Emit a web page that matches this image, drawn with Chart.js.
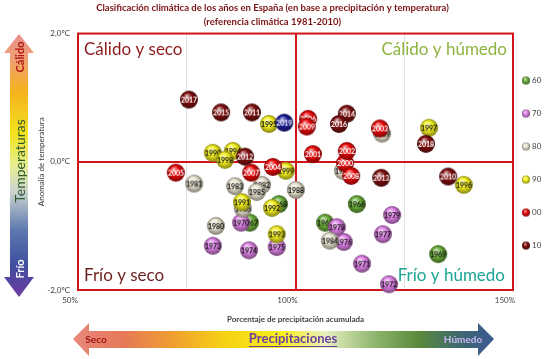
<!DOCTYPE html>
<html>
<head>
<meta charset="utf-8">
<script src="https://cdn.jsdelivr.net/npm/chart.js@4"></script>
<style>
  html, body { margin: 0; padding: 0; background: #fff; }
  #wrap { width: 550px; height: 359px; }
</style>
</head>
<body>
<div id="wrap"><canvas id="chart"></canvas></div>
<script>
// Years, accumulated precipitation (% of normal) and temperature anomaly (ºC)
const years = [1965, 1966, 1967, 1968, 1969,
  1970, 1971, 1972, 1973, 1974, 1975, 1976, 1977, 1978, 1979,
  1980, 1981, 1982, 1983, 1984, 1985, 1986, 1987, 1988, 1989,
  1990, 1991, 1992, 1993, 1994, 1995, 1996, 1997, 1998, 1999,
  2000, 2001, 2002, 2003, 2004, 2005, 2006, 2007, 2008, 2009,
  2010, 2011, 2012, 2013, 2014, 2015, 2016, 2017, 2018, 2019];
const precipitation = [106.8, 114.1, 89.5, 96.2, 132.8,
  87.5, 115.3, 121.5, 81.0, 89.3, 95.7, 111.1, 120.1, 109.5, 122.2,
  81.7, 76.7, 92.3, 86.1, 107.9, 91.1, 87.9, 110.9, 100.1, 119.9,
  81.0, 87.7, 94.6, 95.7, 85.6, 93.9, 138.7, 130.7, 83.8, 97.8,
  111.4, 104.0, 111.8, 119.4, 94.8, 72.5, 102.9, 89.8, 112.8, 102.6,
  135.1, 90.0, 88.4, 119.7, 111.8, 82.9, 110.0, 75.5, 130.0, 97.4];
const anomaly = [-0.95, -0.66, -0.95, -0.66, -1.44,
  -0.95, -1.59, -1.91, -1.31, -1.38, -1.33, -1.25, -1.13, -1.02, -0.83,
  -1.00, -0.34, -0.36, -0.38, -1.23, -0.47, -0.73, -0.14, -0.44, 0.44,
  0.14, -0.63, -0.72, -1.13, 0.17, 0.59, -0.36, 0.53, 0.03, -0.14,
  -0.02, 0.12, 0.17, 0.52, -0.08, -0.17, 0.67, -0.17, -0.22, 0.55,
  -0.23, 0.77, 0.08, -0.25, 0.75, 0.77, 0.59, 0.97, 0.28, 0.61];

const decades = ['60', '70', '80', '90', '00', '10'];
const decadeColors = ['#6BAE3A', '#DC80E4', '#E6E0CC', '#F2EE1E', '#E60808', '#7E0E0E'];
const highlightYear = 2019;
const highlightColor = '#1C1C98';
const xTickLabels = [50, 100, 150];
const yTickLabels = [-2, 0, 2];
const quadrants = ['Cálido y seco', 'Cálido y húmedo', 'Frío y seco', 'Frío y húmedo'];

function mix(hex, amt) {
  const n = parseInt(hex.slice(1), 16);
  let r = n >> 16, g = (n >> 8) & 255, b = n & 255;
  const t = amt < 0 ? 0 : 255, p = Math.abs(amt);
  r = Math.round(r + (t - r) * p);
  g = Math.round(g + (t - g) * p);
  b = Math.round(b + (t - b) * p);
  return `rgb(${r},${g},${b})`;
}

function isLight(hex) {
  const n = parseInt(hex.slice(1), 16);
  return (0.3 * (n >> 16) + 0.59 * ((n >> 8) & 255) + 0.11 * (n & 255)) > 140;
}

// a shaded sphere with the year written on it, used as the point style
function makeBall(color, text, r) {
  const c = document.createElement('canvas');
  const s = 2 * r + 2;
  c.width = c.height = s;
  const g = c.getContext('2d');
  const cx = s / 2, cy = s / 2;
  const grad = g.createRadialGradient(cx - r * 0.25, cy - r * 0.45, r * 0.05, cx, cy, r);
  grad.addColorStop(0, mix(color, 0.65));
  grad.addColorStop(0.5, color);
  grad.addColorStop(1, mix(color, -0.45));
  g.fillStyle = grad;
  g.beginPath();
  g.arc(cx, cy, r, 0, Math.PI * 2);
  g.fill();
  if (text) {
    g.font = 'bold 7px Lato';
    g.textAlign = 'center';
    g.textBaseline = 'middle';
    g.fillStyle = isLight(color) ? '#111' : '#fff';
    g.fillText(text, cx, cy + 0.5);
  }
  return c;
}

function buildDataset(idxs, color, order) {
  return {
    label: '',
    data: idxs.map(i => ({ x: precipitation[i], y: anomaly[i] })),
    pointStyle: idxs.map(i => makeBall(color, String(years[i]), 9)),
    pointRadius: 9,
    backgroundColor: color,
    order: order,
    clip: false
  };
}

const datasets = [];
decades.forEach((d, k) => {
  const idxs = years.map((y, i) => i).filter(i =>
    String(years[i]).slice(2, 3) === d[0] && years[i] !== highlightYear);
  const ds = buildDataset(idxs, decadeColors[k], 10 - k);
  ds.label = d;
  datasets.push(ds);
});
const hl = buildDataset([years.indexOf(highlightYear)], highlightColor, 0);
hl.label = String(highlightYear);
datasets.push(hl);

const frameColor = '#D0141A';

const decorPlugin = {
  id: 'decor',
  beforeDraw(chart) {
    const ctx = chart.ctx;
    ctx.save();
    // vertical temperature arrow
    let gr = ctx.createLinearGradient(0, 34, 0, 296);
    gr.addColorStop(0, '#E8908C');
    gr.addColorStop(0.1, '#F0A070');
    gr.addColorStop(0.22, '#F5B21E');
    gr.addColorStop(0.38, '#F2E21C');
    gr.addColorStop(0.5, '#E6EE90');
    gr.addColorStop(0.6, '#CCD4D0');
    gr.addColorStop(0.75, '#5C78B0');
    gr.addColorStop(0.88, '#3F4FA0');
    gr.addColorStop(1, '#6A3CA2');
    ctx.fillStyle = gr;
    ctx.beginPath();
    ctx.moveTo(19, 34); ctx.lineTo(34, 53); ctx.lineTo(28, 53); ctx.lineTo(28, 277);
    ctx.lineTo(34, 277); ctx.lineTo(19, 297); ctx.lineTo(4, 277); ctx.lineTo(10, 277);
    ctx.lineTo(10, 53); ctx.lineTo(4, 53); ctx.closePath();
    ctx.fill();
    ctx.textAlign = 'center';
    ctx.textBaseline = 'middle';
    const vtext = (t, y, font, color) => {
      ctx.save();
      ctx.translate(20, y);
      ctx.rotate(-Math.PI / 2);
      ctx.font = font;
      ctx.fillStyle = color;
      ctx.fillText(t, 0, 0);
      ctx.restore();
    };
    vtext('Cálido', 57, 'bold 11px Lato', '#B01414');
    vtext('Temperaturas', 161, '14px Lato', '#2C5A2C');
    vtext('Frío', 269, 'bold 11px Lato', '#ffffff');

    // horizontal precipitation arrow
    gr = ctx.createLinearGradient(73, 0, 494, 0);
    gr.addColorStop(0, '#E8887C');
    gr.addColorStop(0.12, '#E67858');
    gr.addColorStop(0.24, '#F0A030');
    gr.addColorStop(0.36, '#F6D214');
    gr.addColorStop(0.5, '#F6F020');
    gr.addColorStop(0.6, '#E8F0C0');
    gr.addColorStop(0.72, '#8CB46C');
    gr.addColorStop(0.82, '#5A8A3C');
    gr.addColorStop(0.92, '#3E6870');
    gr.addColorStop(1, '#3A5892');
    ctx.fillStyle = gr;
    ctx.beginPath();
    ctx.moveTo(73, 339); ctx.lineTo(89, 323); ctx.lineTo(89, 331); ctx.lineTo(478, 331);
    ctx.lineTo(478, 323); ctx.lineTo(494, 339); ctx.lineTo(478, 356); ctx.lineTo(478, 348);
    ctx.lineTo(89, 348); ctx.lineTo(89, 356); ctx.closePath();
    ctx.fill();
    ctx.font = 'bold 10px Lato';
    ctx.fillStyle = '#A01414';
    ctx.fillText('Seco', 96, 340);
    ctx.fillStyle = '#C8B8F0';
    ctx.fillText('Húmedo', 463, 340);
    ctx.font = 'bold 13px Lato';
    ctx.fillStyle = '#6B3FA0';
    ctx.fillText('Precipitaciones', 293, 339);
    const w = ctx.measureText('Precipitaciones').width;
    ctx.fillRect(293 - w / 2, 346, w, 1);
    ctx.restore();
  },
  beforeDatasetsDraw(chart) {
    const { ctx, chartArea: a } = chart;
    ctx.save();
    ctx.strokeStyle = frameColor;
    ctx.lineWidth = 2;
    ctx.strokeRect(a.left, a.top, a.right - a.left, a.bottom - a.top);
    ctx.font = '17px Lato';
    ctx.textBaseline = 'middle';
    ctx.textAlign = 'left';
    ctx.fillStyle = '#8E1B1B';
    ctx.fillText(quadrants[0], a.left + 6, a.top + 16);
    ctx.fillStyle = '#6E1F1F';
    ctx.fillText(quadrants[2], a.left + 6, a.bottom - 14);
    ctx.textAlign = 'right';
    ctx.fillStyle = '#8DB43E';
    ctx.fillText(quadrants[1], a.right - 6, a.top + 16);
    ctx.fillStyle = '#1FA595';
    ctx.fillText(quadrants[3], a.right - 8, a.bottom - 14);
    ctx.restore();
  },
  afterDraw(chart) {
    // decade legend on the right
    const { ctx, chartArea: a } = chart;
    ctx.save();
    ctx.font = '8px Lato';
    ctx.fillStyle = '#404040';
    ctx.textBaseline = 'middle';
    ctx.textAlign = 'left';
    decades.forEach((d, k) => {
      const y = a.top + 47 + k * 33;
      const ball = makeBall(decadeColors[k], '', 4);
      ctx.drawImage(ball, a.right + 13 - ball.width / 2, y - ball.height / 2);
      ctx.fillText(d, a.right + 19, y);
    });
    ctx.restore();
  }
};

new Chart(document.getElementById('chart'), {
  type: 'scatter',
  data: { datasets: datasets },
  plugins: [decorPlugin],
  options: {
    responsive: true,
    maintainAspectRatio: false,
    animation: false,
    layout: { padding: { left: 32, right: 37, top: 0, bottom: 34 } },
    plugins: {
      legend: { display: false },
      tooltip: { enabled: false },
      title: {
        display: true,
        text: ['Clasificación climática de los años en España (en base a precipitación y temperatura)',
               '(referencia climática 1981-2010)'],
        color: '#7B1212',
        font: { family: 'Lato', size: 9.5, weight: 'bold', lineHeight: 1.45 },
        padding: { top: 1, bottom: 5 }
      }
    },
    scales: {
      x: {
        type: 'linear',
        min: 50,
        max: 150,
        afterFit: s => { s.height = 35; },
        border: { display: false },
        grid: {
          drawTicks: false,
          color: c => c.tick.value === 100 ? frameColor : (c.tick.value === 75 || c.tick.value === 125 ? '#E2E2E2' : 'rgba(0,0,0,0)'),
          lineWidth: c => c.tick.value === 100 ? 2 : 1
        },
        ticks: {
          stepSize: 25,
          autoSkip: false,
          maxRotation: 0,
          padding: 6,
          labelOffset: -8,
          color: '#404040',
          font: { family: 'Lato', size: 8 },
          callback: v => xTickLabels.includes(v) ? v + '%' : ''
        },
        title: {
          display: true,
          text: 'Porcentaje de precipitación acumulada',
          color: '#404040',
          font: { family: 'Lato', size: 8, weight: 'bold' },
          padding: { top: 0, bottom: 1 }
        }
      },
      y: {
        type: 'linear',
        min: -2,
        max: 2,
        afterFit: s => { s.width = 46; },
        border: { display: false },
        grid: {
          drawTicks: false,
          color: c => c.tick.value === 0 ? frameColor : 'rgba(0,0,0,0)',
          lineWidth: c => c.tick.value === 0 ? 2 : 1
        },
        ticks: {
          stepSize: 2,
          padding: 8,
          color: '#404040',
          font: { family: 'Lato', size: 8 },
          callback: v => yTickLabels.includes(v) ? v.toFixed(1).replace('.', ',') + 'ºC' : ''
        },
        title: {
          display: true,
          text: 'Anomalía de temperatura',
          color: '#404040',
          font: { family: 'Lato', size: 8 },
          padding: { top: 5, bottom: 0 }
        }
      }
    }
  }
});
</script>
</body>
</html>
